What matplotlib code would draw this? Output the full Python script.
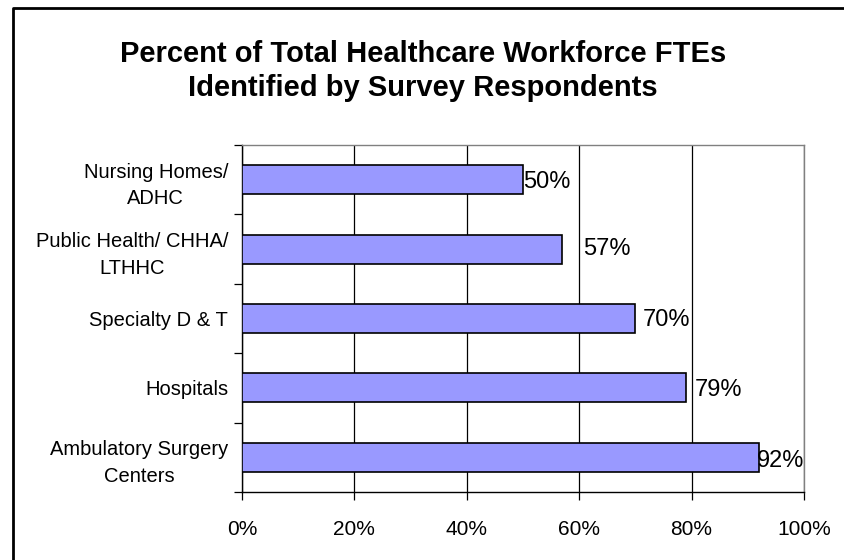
import matplotlib
matplotlib.use("Agg")
import matplotlib.pyplot as plt
from matplotlib.lines import Line2D
from matplotlib.ticker import PercentFormatter, FixedLocator
import numpy as np

plt.rcParams['font.family'] = ['Liberation Sans', 'DejaVu Sans']

categories = ["Nursing Homes/\nADHC",
              "Public Health/ CHHA/\nLTHHC",
              "Specialty D & T",
              "Hospitals",
              "Ambulatory Surgery\nCenters"]
pct = [50, 57, 70, 79, 92]
# where each value label sits relative to the bar end, in pixels
label_dx = [0, 21, 7, 9, -2]
label_dy = [-2, 0, -1, -2, -4]

fig = plt.figure(figsize=(8.45, 5.6), dpi=100)
ax = fig.add_axes([242/845, 1 - 492/560, 562/845, 347/560])

y = np.arange(len(categories))
ax.barh(y, pct, height=0.42, color="#9999FF", edgecolor="black", linewidth=1.2, zorder=3)

for yi, v, dx, dy in zip(y, pct, label_dx, label_dy):
    ax.annotate("%d%%" % v, (v, yi), xytext=(dx * 0.72, dy * 0.72),
                textcoords="offset points", ha="left", va="center",
                fontsize=17, zorder=4)

ax.set_xlim(0, 100)
ax.set_ylim(len(categories) - 0.5, -0.5)
ax.set_xticks(np.arange(0, 101, 20))
ax.xaxis.set_major_formatter(PercentFormatter(decimals=0))
ax.xaxis.grid(True, color="black", linewidth=0.9, zorder=0)

ax.set_yticks(y)
ax.set_yticklabels(categories, multialignment="center", linespacing=1.5)
ax.yaxis.set_minor_locator(FixedLocator(np.arange(-0.5, len(categories), 1)))
ax.tick_params(axis="y", which="major", length=0, pad=10, labelsize=14.5)
ax.tick_params(axis="y", which="minor", length=6, width=0.9, direction="out")
ax.tick_params(axis="x", length=6, width=0.9, direction="out", pad=14, labelsize=15)

for s in ("left", "bottom"):
    ax.spines[s].set_color("black")
    ax.spines[s].set_linewidth(1.0)
for s in ("top", "right"):
    ax.spines[s].set_color("#808080")
    ax.spines[s].set_linewidth(1.0)

fig.text(423/845, 1 - 71/560,
         "Percent of Total Healthcare Workforce FTEs\nIdentified by Survey Respondents",
         ha="center", va="center", fontsize=21, fontweight="bold", linespacing=1.3)

# outer chart border (top and left edges)
fig.add_artist(Line2D([13/845, 13/845, 1.0], [0.0, 1 - 8/560, 1 - 8/560],
                      transform=fig.transFigure, color="black", linewidth=2))

fig.savefig("out.png", dpi=100)
